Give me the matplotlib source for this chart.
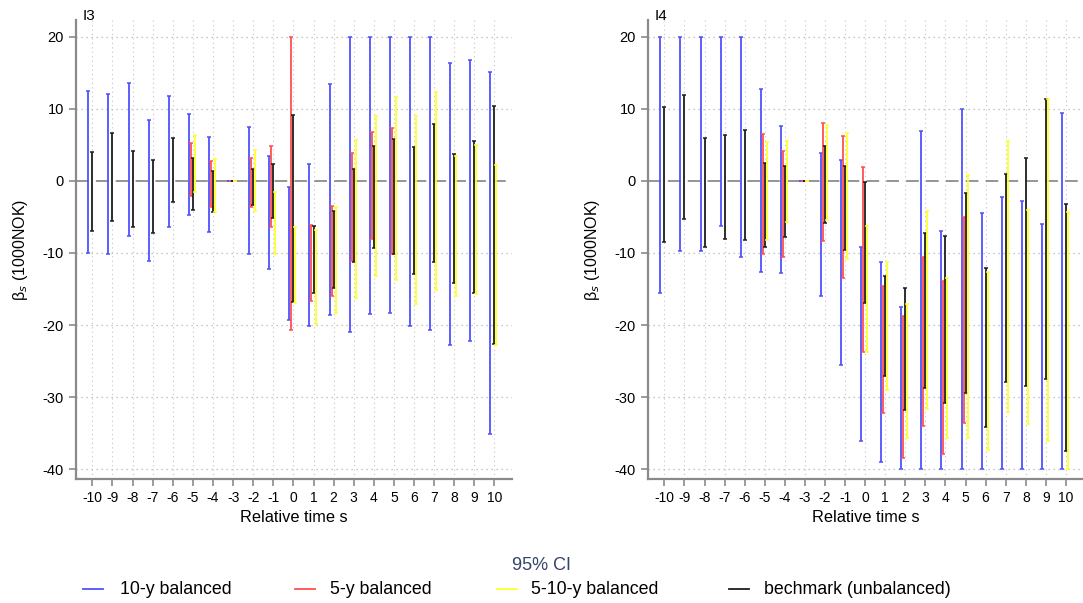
import numpy as np
import matplotlib
matplotlib.use("Agg")
import matplotlib.pyplot as plt
from matplotlib.lines import Line2D

plt.rcParams['font.family'] = ['Liberation Sans', 'DejaVu Sans']

s_all = list(range(-10, 11))
s_bal5 = list(range(-5, 6))
s_y510 = list(range(-5, 11))

# ---- Panel I3 ----
i3_blue_hi = [12.5, 12.0, 13.5, 8.5, 11.7, 9.3, 6.1, 0, 7.4, 3.4, -0.8, 2.35, 13.4, 20, 20, 20, 20, 20, 16.3, 16.8, 15.1]
i3_blue_lo = [-10.0, -10.1, -7.65, -11.1, -6.4, -4.8, -7.05, 0, -10.1, -12.2, -19.3, -20.1, -18.6, -20.9, -18.5, -18.3, -20.1, -20.7, -22.7, -22.2, -35.1]
i3_red_hi = [5.25, 2.8, 0, 3.2, 4.8, 20.0, -6.1, -3.5, 3.8, 6.8, 7.3]
i3_red_lo = [-2.1, -3.7, 0, -3.6, -6.4, -20.7, -16.7, -16.0, -11.1, -8.1, -10.2]
i3_black_hi = [4.06, 6.6, 4.1, 2.9, 6.0, 3.2, 1.3, 0, 1.66, 2.3, 9.1, -6.2, -4.2, 1.66, 4.8, 5.85, 4.75, 7.9, 3.7, 5.5, 10.4]
i3_black_lo = [-7.0, -5.6, -6.4, -7.2, -3.0, -4.0, -4.3, 0, -3.4, -5.2, -16.8, -15.6, -14.9, -11.2, -9.3, -10.2, -12.9, -11.3, -14.2, -15.5, -22.6]
i3_yellow_hi = [6.3, 3.0, 0, 4.3, -1.5, -6.4, -6.8, -3.7, 5.6, 9.0, 11.6, 9.0, 12.3, 3.5, 4.9, 2.2]
i3_yellow_lo = [-1.5, -4.3, 0, -4.2, -10.2, -16.9, -19.8, -18.3, -16.3, -13.2, -13.7, -17.1, -15.2, -16.0, -15.7, -22.7]

# ---- Panel I4 ----
i4_blue_hi = [20, 20, 20, 20, 20, 12.7, 7.6, 0, 3.9, 2.9, -9.2, -11.2, -17.5, 6.9, -6.9, 9.95, -4.5, -2.2, -2.8, -6.0, 9.35]
i4_blue_lo = [-15.6, -9.8, -9.8, -6.3, -10.6, -12.6, -12.8, 0, -16.0, -25.5, -36.1, -39.0, -40, -40, -40, -40, -40, -40, -40, -40, -40]
i4_red_hi = [6.5, 4.1, 0, 8.0, 6.2, 1.9, -14.6, -18.75, -10.6, -13.9, -5.0]
i4_red_lo = [-10.1, -10.6, 0, -8.4, -13.5, -23.75, -32.2, -38.4, -34.0, -37.9, -33.6]
i4_black_hi = [10.2, 11.9, 5.9, 6.4, 7.1, 2.5, 2.1, 0, 4.8, 2.1, -0.2, -13.2, -14.9, -7.2, -7.7, -1.75, -12.1, 0.9, 3.2, 11.4, -3.2]
i4_black_lo = [-8.5, -5.3, -9.2, -8.1, -8.2, -9.2, -7.8, 0, -5.9, -9.6, -16.9, -27.1, -31.8, -28.75, -30.8, -29.4, -34.2, -27.9, -28.5, -27.5, -37.5]
i4_yellow_hi = [5.4, 5.5, 0, 7.7, 6.6, -6.2, -11.25, -17.1, -4.15, -13.5, 0.75, -12.7, 5.5, -4.0, 11.3, -4.3]
i4_yellow_lo = [-8.2, -5.7, 0, -5.5, -10.8, -23.8, -29.0, -35.7, -31.6, -35.7, -35.6, -37.3, -32.0, -33.75, -36.1, -40]

panel_titles = ["I3", "I4"]
series_labels = ["10-y balanced", "5-y balanced", "5-10-y balanced", "bechmark (unbalanced)"]
yticks = [20, 10, 0, -10, -20, -30, -40]

C_BLUE = '#5050ff'
C_RED = '#ff5050'
C_YEL = '#ffff30'
C_BLK = '#1e1e1e'

W, H = 1083, 603
fig = plt.figure(figsize=(W / 100, H / 100), dpi=100)

def fx(px):
    return px / W

def fy(py):
    return 1 - py / H

ax_specs = [
    (75.7, 511.5, 20, 479),
    (647.7, 1083.0, 20, 479),
]

panels = [
    dict(blue=(i3_blue_lo, i3_blue_hi), red=(i3_red_lo, i3_red_hi),
         black=(i3_black_lo, i3_black_hi), yellow=(i3_yellow_lo, i3_yellow_hi)),
    dict(blue=(i4_blue_lo, i4_blue_hi), red=(i4_red_lo, i4_red_hi),
         black=(i4_black_lo, i4_black_hi), yellow=(i4_yellow_lo, i4_yellow_hi)),
]

def draw_ci(ax, xs, lo, hi, dx, color):
    xs = np.asarray(xs, dtype=float) + dx
    lo = np.asarray(lo, dtype=float)
    hi = np.asarray(hi, dtype=float)
    mid = (lo + hi) / 2
    err = np.vstack([mid - lo, hi - mid])
    ax.errorbar(xs, mid, yerr=err, fmt='none', ecolor=color, elinewidth=1.3,
                capsize=1.3, capthick=1.1, zorder=3)

for k, (l, r, t, b) in enumerate(ax_specs):
    ax = fig.add_axes([fx(l), fy(b), fx(r) - fx(l), fy(t) - fy(b)])
    ax.set_xlim(-10.83, 10.85)
    ax.set_ylim(-41.35, 22.3)
    # grid
    for xv in s_all:
        ax.axvline(xv, color='#c4c4c4', lw=0.8, ls=(0, (1, 3)), zorder=1)
    for yv in yticks:
        if yv != 0:
            ax.axhline(yv, color='#b4b4b4', lw=0.9, ls=(0, (1, 3)), zorder=1)
    ax.axhline(0, color='#8c8c8c', lw=1.3, ls=(0, (7, 4)), zorder=2)

    p = panels[k]
    draw_ci(ax, s_all, *p['blue'], -0.2, C_BLUE)
    draw_ci(ax, s_bal5, *p['red'], -0.1, C_RED)
    draw_ci(ax, s_all, *p['black'], 0.0, C_BLK)
    draw_ci(ax, s_y510, *p['yellow'], 0.1, C_YEL)

    ax.set_xticks(s_all)
    ax.set_xticklabels([str(v) for v in s_all], fontsize=10)
    ax.set_yticks(yticks)
    ax.set_yticklabels([str(v) for v in yticks], fontsize=10.5)
    for sp in ['top', 'right']:
        ax.spines[sp].set_visible(False)
    for sp in ['left', 'bottom']:
        ax.spines[sp].set_color('#8a8a8a')
        ax.spines[sp].set_linewidth(1.6)
    ax.tick_params(axis='both', colors='#8a8a8a', labelcolor='black', length=5, width=1.2)
    ax.tick_params(axis='x', pad=4)
    ax.set_xlabel('Relative time s', fontsize=11.8, labelpad=3)
    ax.set_ylabel('β$_s$ (1000NOK)', fontsize=11.5, labelpad=9)
    fig.text(fx(l + 7), fy(16), panel_titles[k], fontsize=11, ha='left', va='center')

# legend
fig.text(fx(541), fy(565), '95% CI', fontsize=13, color='#33446a', ha='center', va='center')
leg_items = [
    (83, 103, 120, C_BLUE),
    (295, 315, 330, C_RED),
    (497, 517, 531, C_YEL),
    (729, 749, 764, C_BLK),
]
for (x0, x1, xt, c), lab in zip(leg_items, series_labels):
    fig.add_artist(Line2D([fx(x0), fx(x1)], [fy(589), fy(589)], color=c, lw=1.3,
                          transform=fig.transFigure))
    fig.text(fx(xt), fy(589), lab, fontsize=12.8, ha='left', va='center')

fig.savefig('out.png', dpi=100)
